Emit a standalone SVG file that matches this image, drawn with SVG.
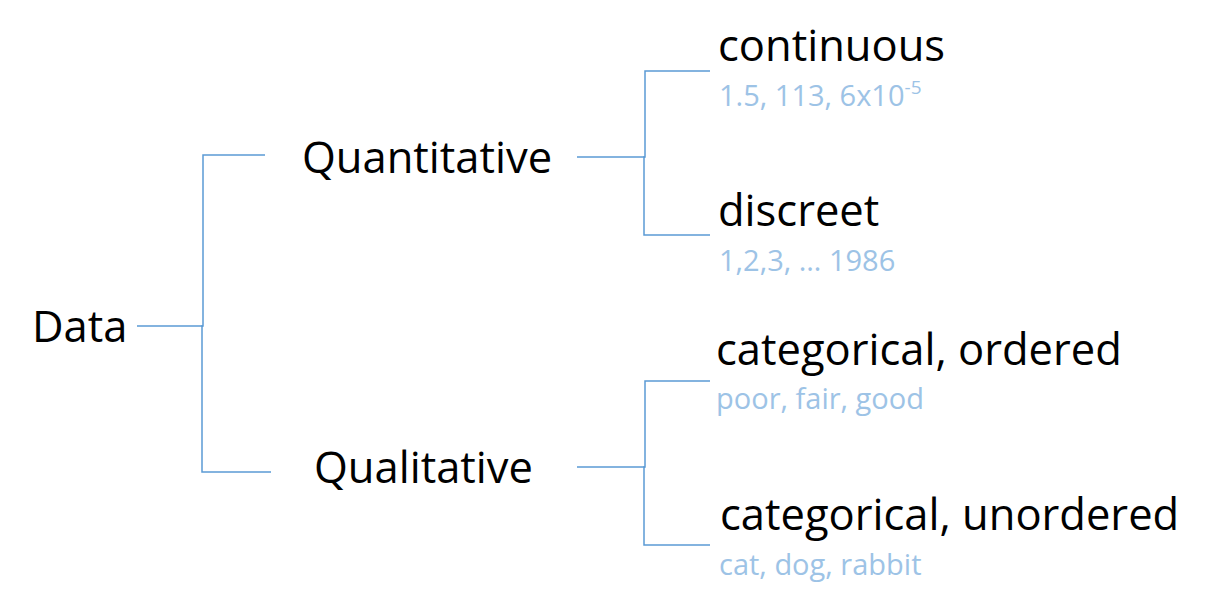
<svg xmlns="http://www.w3.org/2000/svg" width="1208" height="606" viewBox="0 0 1208 606">
<style>
.lbl{font-family:"Open Sans","Noto Sans","Liberation Sans",sans-serif;font-size:43.5px;fill:#000}
.sub{font-family:"Open Sans","Noto Sans","Liberation Sans",sans-serif;font-size:29px;fill:#9dc3e6}
.con{fill:none;stroke:#5b9bd5;stroke-width:1.5}
</style>
<rect width="1208" height="606" fill="#fff"/>
<g id="connectors">
<polyline class="con" points="137,326 203,326 203,155 265,155"/>
<polyline class="con" points="203,326 202,326 202,472 271,472"/>
<polyline class="con" points="577,157 645,157 645,71 710,71"/>
<polyline class="con" points="645,157 644,157 644,235 710,235"/>
<polyline class="con" points="577,467 645,467 645,381 710,381"/>
<polyline class="con" points="645,467 644,467 644,545 710,545"/>
</g>
<g id="data"><text class="lbl" x="32" y="342">Data</text></g>
<g id="quantitative"><text class="lbl" x="302" y="173">Quantitative</text></g>
<g id="qualitative"><text class="lbl" x="314" y="483">Qualitative</text></g>
<g id="continuous"><text class="lbl" x="718" y="61">continuous</text>
<text class="sub" x="719" y="106">1.5, 113, 6x10<tspan font-size="19" dy="-12">-5</tspan></text></g>
<g id="discreet"><text class="lbl" x="718" y="226">discreet</text>
<text class="sub" x="719" y="271">1,2,3, … 1986</text></g>
<g id="cat-ordered"><text class="lbl" x="716" y="365">categorical, ordered</text>
<text class="sub" x="716" y="409">poor, fair, good</text></g>
<g id="cat-unordered"><text class="lbl" x="720" y="530">categorical, unordered</text>
<text class="sub" x="719" y="575">cat, dog, rabbit</text></g>
</svg>
